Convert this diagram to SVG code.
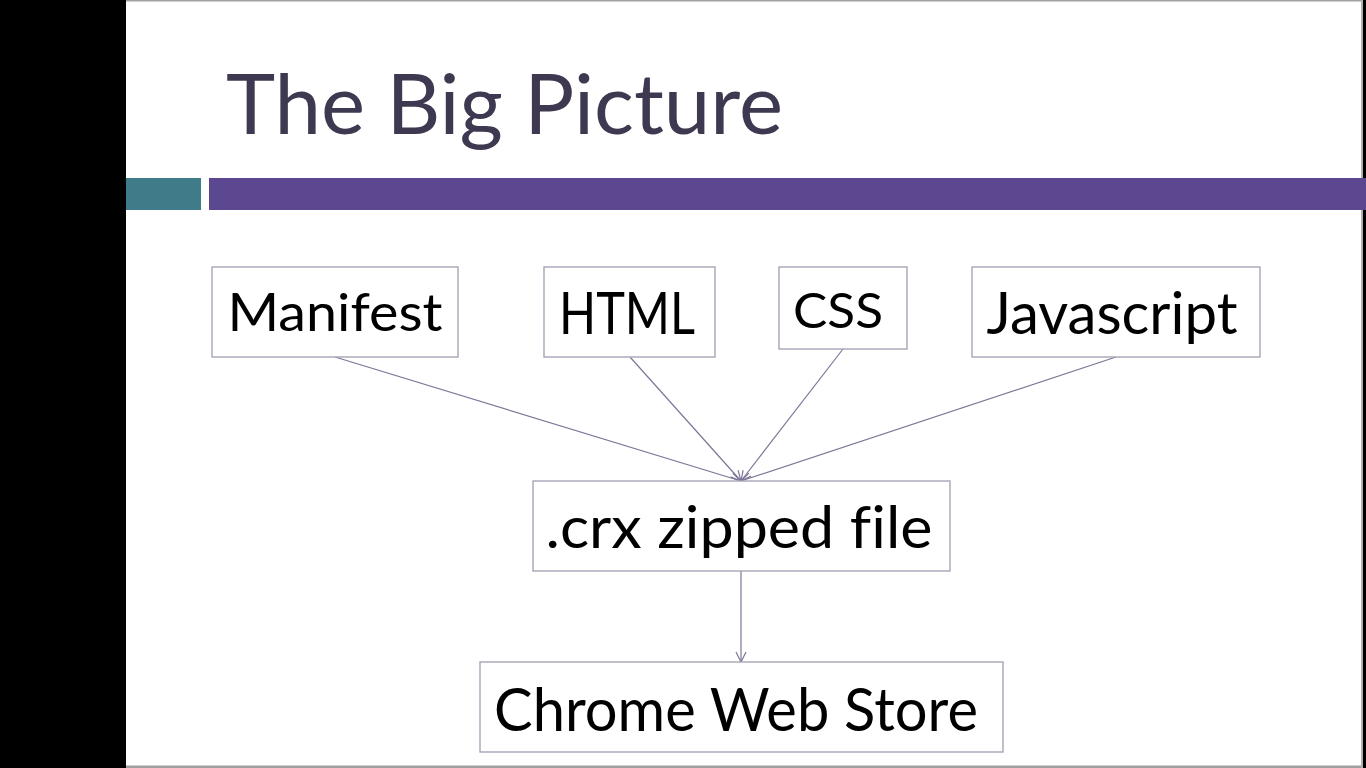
<svg xmlns="http://www.w3.org/2000/svg" width="1366" height="768" viewBox="0 0 1366 768">
<style>
text{font-variant-ligatures:none}
.box{fill:#ffffff;stroke:#a8a4b8;stroke-width:1.4}
.lbl{font-family:Lato,"Noto Sans",sans-serif;fill:#000000;text-anchor:middle}
.conn{stroke:#7e7698;stroke-width:1.2;fill:none;marker-end:url(#arr)}
</style>
<defs>
<marker id="arr" viewBox="0 0 12 12" refX="11" refY="6" markerWidth="12" markerHeight="12" markerUnits="userSpaceOnUse" orient="auto">
<path d="M1,1 L11,6 L1,11" fill="none" stroke="#7e7698" stroke-width="1.2"/>
</marker>
</defs>
<rect x="0" y="0" width="1366" height="768" fill="#000000"/>
<rect x="126" y="0" width="1237" height="768" fill="#ffffff"/>
<rect x="126" y="0" width="1237" height="1.5" fill="#a0a0a0"/>
<rect x="126" y="765.5" width="1237" height="2.5" fill="#a0a0a0"/>
<rect x="1361" y="0" width="2" height="768" fill="#b0b0b0"/>
<g id="title">
<text x="226" y="134" font-family="Lato,'Noto Sans',sans-serif" font-size="84" fill="#3f3851" textLength="557" lengthAdjust="spacingAndGlyphs">The Big Picture</text>
</g>
<g id="bars">
<rect x="126" y="178" width="75" height="32" fill="#3e7c89"/>
<rect x="209" y="178" width="1157" height="32" fill="#5b4891"/>
</g>
<g id="connectors">
<line class="conn" x1="335" y1="357" x2="741" y2="481"/>
<line class="conn" x1="630" y1="357" x2="741" y2="481"/>
<line class="conn" x1="843" y1="349" x2="741" y2="481"/>
<line class="conn" x1="1116" y1="357" x2="741" y2="481"/>
<line class="conn" x1="741" y1="571" x2="741" y2="662"/>
</g>
<g id="node-manifest">
<rect class="box" x="212" y="267" width="246" height="90"/>
<text class="lbl" x="335" y="331" font-size="52" textLength="215" lengthAdjust="spacingAndGlyphs">Manifest</text>
</g>
<g id="node-html">
<rect class="box" x="544" y="267" width="171" height="90"/>
<text class="lbl" x="627" y="334" font-size="58" textLength="136" lengthAdjust="spacingAndGlyphs">HTML</text>
</g>
<g id="node-css">
<rect class="box" x="779" y="267" width="128" height="82"/>
<text class="lbl" x="838" y="328" font-size="49" textLength="90" lengthAdjust="spacingAndGlyphs">CSS</text>
</g>
<g id="node-javascript">
<rect class="box" x="972" y="267" width="288" height="90"/>
<text class="lbl" x="1112" y="334" font-size="58" textLength="251" lengthAdjust="spacingAndGlyphs">Javascript</text>
</g>
<g id="node-crx">
<rect class="box" x="533" y="481" width="417" height="90"/>
<text class="lbl" x="739" y="548" font-size="58" textLength="387" lengthAdjust="spacingAndGlyphs">.crx zipped file</text>
</g>
<g id="node-store">
<rect class="box" x="480" y="662" width="523" height="90"/>
<text class="lbl" x="736" y="731" font-size="60" textLength="484" lengthAdjust="spacingAndGlyphs">Chrome Web Store</text>
</g>
</svg>
